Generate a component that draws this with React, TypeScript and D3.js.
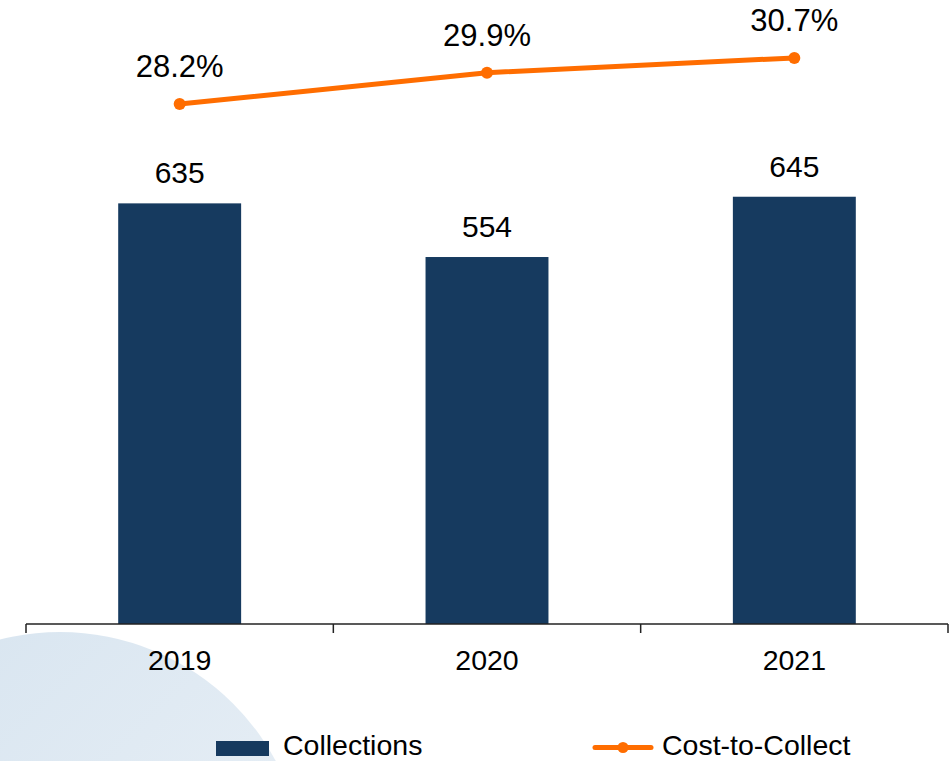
import * as d3 from 'd3'

const years = ['2019', '2020', '2021']
const collections = [635, 554, 645]
const costToCollect = [28.2, 29.9, 30.7]
const seriesNames = ['Collections', 'Cost-to-Collect']

const W = 950
const H = 761
const BAR = '#163a5f'
const ORANGE = '#ff6d00'
const FONT = '"Liberation Sans", Arial, Helvetica, sans-serif'

export default function App() {
  const baseY = 624
  const x = d3.scaleBand<string>().domain(years).range([26, 948]).padding(0)
  const barW = x.bandwidth() * 0.4
  const y = d3.scaleLinear().domain([0, 942]).range([baseY, 0])
  const y2 = d3.scaleLinear().domain([0, 33.84]).range([baseY, 0])
  const cx = (d: string) => (x(d) ?? 0) + x.bandwidth() / 2

  const linePts = years.map((yr, i) => ({ yr, v: costToCollect[i] }))
  const line = d3.line<{ yr: string; v: number }>().x(d => cx(d.yr)).y(d => y2(d.v))

  const ticks = [...years.map(d => x(d) ?? 0), x.range()[1]]

  return (
    <svg width={W} height={H} style={{ position: 'absolute', left: 0, top: 0, display: 'block' }} fontFamily={FONT}>
      <defs>
        <linearGradient id="bgc" x1="0" y1="0" x2="1" y2="1">
          <stop offset="0%" stopColor="#d5e3ef" />
          <stop offset="100%" stopColor="#eef3f8" />
        </linearGradient>
      </defs>
      <rect width={W} height={H} fill="#fff" />
      <circle cx={60} cy={877} r={245} fill="url(#bgc)" />

      {/* bars */}
      {years.map((yr, i) => (
        <g key={yr}>
          <rect x={cx(yr) - barW / 2} y={y(collections[i])} width={barW} height={baseY - y(collections[i])} fill={BAR} />
          <text x={cx(yr)} y={y(collections[i]) - 20} textAnchor="middle" fontSize={30} fill="#000">{collections[i]}</text>
        </g>
      ))}

      {/* axis */}
      <line x1={x.range()[0]} x2={x.range()[1]} y1={baseY} y2={baseY} stroke="#222" strokeWidth={1.5} />
      {ticks.map((t, i) => (
        <line key={i} x1={t} x2={t} y1={baseY} y2={baseY + 9} stroke="#222" strokeWidth={1.5} />
      ))}
      {years.map(yr => (
        <text key={yr} x={cx(yr)} y={670} textAnchor="middle" fontSize={28.5} fill="#000">{yr}</text>
      ))}

      {/* line series */}
      <path d={line(linePts) ?? ''} fill="none" stroke={ORANGE} strokeWidth={5} strokeLinejoin="round" />
      {linePts.map(p => (
        <g key={p.yr}>
          <circle cx={cx(p.yr)} cy={y2(p.v)} r={6} fill={ORANGE} />
          <text x={cx(p.yr)} y={y2(p.v) - 27} textAnchor="middle" fontSize={31} fill="#000">{p.v.toFixed(1)}%</text>
        </g>
      ))}

      {/* legend */}
      <rect x={216} y={741} width={53} height={15} fill={BAR} />
      <text x={283} y={754.5} fontSize={28.5} fill="#000">{seriesNames[0]}</text>
      <line x1={595} x2={651} y1={747.5} y2={747.5} stroke={ORANGE} strokeWidth={5} strokeLinecap="round" />
      <circle cx={623} cy={747.5} r={5.5} fill={ORANGE} />
      <text x={662} y={754.5} fontSize={28.5} fill="#000">{seriesNames[1]}</text>
    </svg>
  )
}
